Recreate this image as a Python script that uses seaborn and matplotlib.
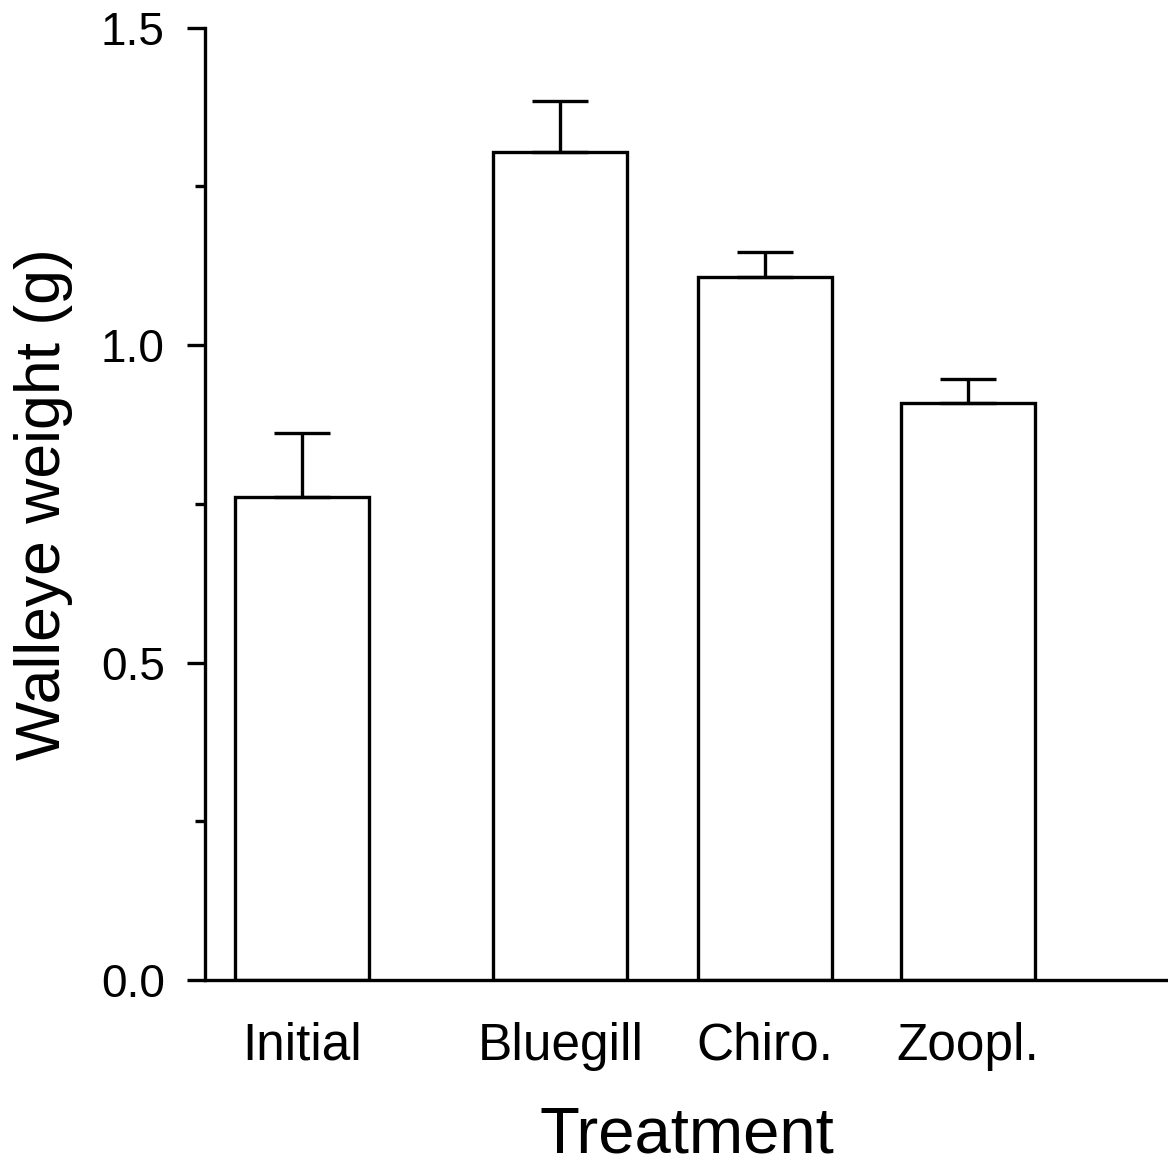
import numpy as np
import pandas as pd
import seaborn as sns
import matplotlib
matplotlib.use('Agg')
from matplotlib import pyplot as plt
from matplotlib.ticker import MultipleLocator

# Data
treatments = ['Initial', 'Bluegill', 'Chiro.', 'Zoopl.']
x_pos = [0.0, 1.26, 2.26, 3.25]  # bars are not evenly spaced in the original
weight_mean = [0.761, 1.305, 1.108, 0.909]
weight_se = [0.101, 0.080, 0.039, 0.038]

sns.set_style('ticks')
plt.rcParams['font.family'] = ['Liberation Sans', 'DejaVu Sans']
for k in ['text.color', 'axes.labelcolor', 'xtick.color', 'ytick.color', 'axes.edgecolor']:
    plt.rcParams[k] = 'black'

df = pd.DataFrame({'pos': x_pos, 'weight': weight_mean, 'treatment': treatments})

fig = plt.figure(figsize=(11.68, 11.67), dpi=100)
ax = fig.add_axes([0.1755, 0.1602, 0.8245, 0.816])

sns.barplot(data=df, x='pos', y='weight', native_scale=True, width=0.66,
            color='white', edgecolor='black', linewidth=2.4, errorbar=None, ax=ax)

# upper error bars only
ax.errorbar(df['pos'], df['weight'], yerr=[np.zeros(len(weight_se)), weight_se],
            fmt='none', ecolor='black', elinewidth=2.4, capsize=20, capthick=2.4, zorder=3)

ax.set_xlim(-0.473, 4.224)
ax.set_ylim(0, 1.5)
ax.set_xticks(x_pos)
ax.set_xticklabels(treatments)
ax.yaxis.set_major_locator(MultipleLocator(0.5))
ax.yaxis.set_minor_locator(MultipleLocator(0.25))
ax.yaxis.set_major_formatter(matplotlib.ticker.FormatStrFormatter('%.1f'))

ax.tick_params(axis='x', length=0, pad=30, labelsize=37)
ax.tick_params(axis='y', which='major', length=13, width=2.4, pad=16, labelsize=33, direction='out')
ax.tick_params(axis='y', which='minor', length=7, width=2.4, direction='out')

for side in ['left', 'bottom']:
    ax.spines[side].set_linewidth(2.4)
sns.despine(ax=ax)

ax.set_xlabel('Treatment', fontsize=47, labelpad=25)
ax.set_ylabel('Walleye weight (g)', fontsize=45, labelpad=20)

plt.savefig('out.png', dpi=100)
